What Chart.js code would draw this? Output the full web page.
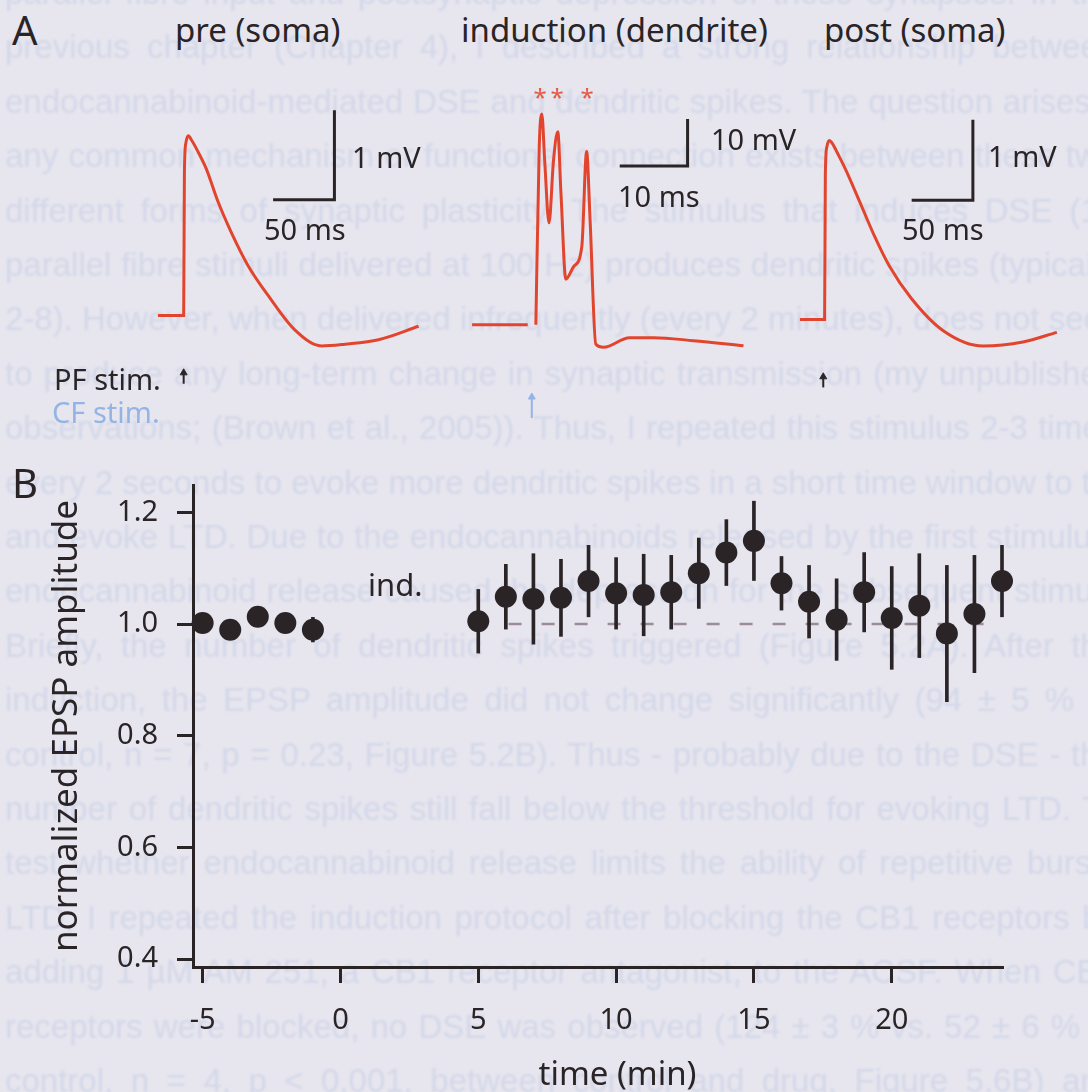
<!DOCTYPE html>
<html><head><meta charset="utf-8">
<script src="https://cdn.jsdelivr.net/npm/chart.js@4.4.0/dist/chart.umd.min.js"></script>
<style>
html,body{margin:0;padding:0;}
body{width:1088px;height:1092px;background:#e7e6ef;position:relative;overflow:hidden;font-family:'Noto Sans',sans-serif;color:#2a2427;}
.t{position:absolute;white-space:nowrap;line-height:1;}
canvas{position:absolute;}
#ghost div{position:absolute;left:5px;width:1112px;font-family:'Liberation Sans',Arial,sans-serif;font-size:33px;line-height:33px;color:rgba(150,170,215,0.24);text-align:justify;text-align-last:justify;white-space:nowrap;filter:blur(0.8px);}
</style></head>
<body>
<div id="ghost"></div>
<canvas id="pre" width="286" height="332" style="left:148px;top:78px"></canvas>
<canvas id="ind" width="295" height="348" style="left:463px;top:85px"></canvas>
<canvas id="post" width="279" height="300" style="left:789px;top:105px"></canvas>
<canvas id="chartB" width="1088" height="652" style="left:0;top:440px"></canvas>
<div id="labels"></div>
<script>
// ---------- Panel B data ----------
const preTimes = [-5, -4, -3, -2, -1];
const preMeans = [1.002, 0.990, 1.013, 1.002, 0.990];
const preErr   = [0.012, 0.012, 0.012, 0.012, 0.022];
const postTimes = [5, 6, 7, 8, 9, 10, 11, 12, 13, 14, 15, 16, 17, 18, 19, 20, 21, 22, 23, 24];
const postMeans = [1.005, 1.049, 1.045, 1.047, 1.077, 1.055, 1.052, 1.057, 1.091, 1.128, 1.149, 1.073, 1.040, 1.008, 1.057, 1.011, 1.033, 0.983, 1.018, 1.077];
const postErr   = [0.057, 0.058, 0.081, 0.069, 0.064, 0.064, 0.073, 0.066, 0.063, 0.059, 0.071, 0.048, 0.065, 0.073, 0.071, 0.092, 0.093, 0.122, 0.105, 0.064];
const xTicks = [-5, 0, 5, 10, 15, 20];
const yTicks = [0.4, 0.6, 0.8, 1.0, 1.2];
const refLine = [{x: 6.1, y: 1.0}, {x: 23.6, y: 1.0}];

// ---------- Panel A traces (ms, mV) ----------
const preTraceMs = [-21, -8, 0, 0.6, 1.8, 3.8, 6.5, 11, 18.3, 27.8, 38.8, 52.4, 70.1, 90.6, 112.4, 131.5, 158.8, 191.5];
const preTraceMv = [0, 0, 0, 1.6, 1.93, 2.01, 1.96, 1.85, 1.645, 1.28, 0.93, 0.56, 0.20, -0.16, -0.34, -0.32, -0.27, -0.12];
const indTraceMs = [-9.4, -1.2, -0.6, 0, 0.5, 0.88, 1.3, 1.94, 2.6, 3.23, 3.7, 4.42, 5.58, 6.77, 7.48, 8.0, 8.83, 10, 13.8, 17.4, 23.2, 30.6];
const indTraceMv = [0, 0, null, 0, 38, 44.9, 35, 21.7, 35, 41.1, 28, 9.7, 12.4, 16.6, 36.9, 22, -4.1, -4.8, -2.75, -2.75, -3.4, -4.5];
const postTraceMs = [-20.2, -8, 0, 0.6, 1.8, 3.8, 6.5, 11, 17.2, 28.7, 40.0, 53.0, 70.9, 96.9, 129.5, 162.0, 189.7];
const postTraceMv = [0, 0, 0, 1.8, 2.14, 2.22, 2.18, 2.05, 1.86, 1.46, 1.06, 0.66, 0.26, -0.14, -0.33, -0.28, -0.16];
// scale bars: [x0, x1] ms at y0, vertical up to y1 (mV)
const preBar  = {ms: [72.9, 122.9], mv: [1.296, 2.296]};
const indBar  = {ms: [12.36, 22.36], mv: [33.8, 43.8]};
const postBar = {ms: [71.1, 121.1], mv: [1.48, 2.48]};
// stimulus arrows: x (ms), y from tail to head (mV)
const preArrow  = {ms: 0,    mv: [-0.762, -0.64]};
const indArrow  = {ms: -0.6, mv: [-19.9, -15.4]};
const postArrow = {ms: -1.1, mv: [-0.844, -0.712]};

const ghostLines = [
 "parallel fibre input and postsynaptic depression of these synapses. In the",
 "previous chapter (Chapter 4), I described a strong relationship between",
 "endocannabinoid-mediated DSE and dendritic spikes. The question arises if",
 "any common mechanism or functional connection exists between these two",
 "different forms of synaptic plasticity. The stimulus that induces DSE (10",
 "parallel fibre stimuli delivered at 100 Hz) produces dendritic spikes (typically",
 "2-8). However, when delivered infrequently (every 2 minutes), does not seem",
 "to produce any long-term change in synaptic transmission (my unpublished",
 "observations; (Brown et al., 2005)). Thus, I repeated this stimulus 2-3 times",
 "every 2 seconds to evoke more dendritic spikes in a short time window to try",
 "and evoke LTD. Due to the endocannabinoids released by the first stimulus,",
 "endocannabinoid release caused the depression for the subsequent stimuli.",
 "Briefly, the number of dendritic spikes triggered (Figure 5.2A). After the",
 "induction, the EPSP amplitude did not change significantly (94 ± 5 % of",
 "control, n = 7, p = 0.23, Figure 5.2B). Thus - probably due to the DSE - the",
 "number of dendritic spikes still fall below the threshold for evoking LTD. To",
 "test whether endocannabinoid release limits the ability of repetitive bursts",
 "LTD, I repeated the induction protocol after blocking the CB1 receptors by",
 "adding 1 µM AM 251, a CB1 receptor antagonist, to the ACSF. When CB1",
 "receptors were blocked, no DSE was observed (124 ± 3 % vs. 52 ± 6 % in",
 "control, n = 4, p < 0.001, between control and drug, Figure 5.6B) and"
];

const INK = '#2a2427';
const RED = '#e2452d';
const BLUE = '#93b4e4';
Chart.defaults.font.family = "'Noto Sans', sans-serif";
Chart.defaults.color = INK;

// ghost text
const g = document.getElementById('ghost');
ghostLines.forEach((s, k) => {
  const d = document.createElement('div');
  const c = 485 + 54.4 * (k - 9);
  d.style.top = (c - 19.4) + 'px';
  d.textContent = s;
  g.appendChild(d);
});

// labels
const labels = [
  ['A', 12, 46, 40, INK],
  ['pre (soma)', 175, 42, 33, INK],
  ['induction (dendrite)', 461, 42, 33, INK],
  ['post (soma)', 824, 42, 33, INK],
  ['1 mV', 352, 168, 29, INK],
  ['50 ms', 264, 240, 29, INK],
  ['10 mV', 711, 150, 29, INK],
  ['10 ms', 618, 207, 29, INK],
  ['1 mV', 988, 167, 29, INK],
  ['50 ms', 902, 240, 29, INK],
  ['PF stim.', 54, 390, 29, INK],
  ['CF stim.', 52, 423, 29, BLUE],
  ['B', 12, 499, 40, INK],
  ['ind.', 368, 597, 31, INK]
];
const L = document.getElementById('labels');
function addLabel(txt, x, base, fs, col, center) {
  const d = document.createElement('div');
  d.className = 't';
  d.textContent = txt;
  d.style.fontSize = fs + 'px';
  d.style.color = col;
  d.style.left = x + 'px';
  d.style.top = (base - 0.888 * fs) + 'px';
  if (center) d.style.transform = 'translateX(-50%)';
  L.appendChild(d);
}
labels.forEach(l => addLabel(...l));
addLabel('time (min)', 617.5, 1085, 33, INK, true);
[540, 557, 587].forEach(x => addLabel('*', x, 106, 24, '#e55a44', true));

// ---------- Panel A charts ----------
function traceChart(id, ms, mv, bar, arrow, arrowCol, xr, yr) {
  const pts = ms.map((t, i) => ({x: t, y: mv[i]}));
  const barPts = [{x: bar.ms[0], y: bar.mv[0]}, {x: bar.ms[1], y: bar.mv[0]}, {x: bar.ms[1], y: bar.mv[1]}];
  const arrPts = [{x: arrow.ms, y: arrow.mv[0]}, {x: arrow.ms, y: arrow.mv[1]}];
  new Chart(document.getElementById(id), {
    type: 'line',
    data: {datasets: [
      {data: pts, borderColor: RED, borderWidth: 3, pointRadius: 0, cubicInterpolationMode: 'monotone', spanGaps: false, clip: false},
      {data: barPts, borderColor: INK, borderWidth: 3, pointRadius: 0, tension: 0, clip: false},
      {data: arrPts, borderColor: arrowCol, borderWidth: 2, pointRadius: [0, 4], pointStyle: 'triangle',
       pointBackgroundColor: arrowCol, pointBorderColor: arrowCol, pointBorderWidth: 1, tension: 0, clip: false}
    ]},
    options: {
      responsive: false, animation: false, events: [], devicePixelRatio: 1,
      layout: {padding: 0},
      plugins: {legend: {display: false}, tooltip: {enabled: false}},
      scales: {
        x: {type: 'linear', display: false, min: xr[0], max: xr[1], offset: false},
        y: {type: 'linear', display: false, min: yr[0], max: yr[1]}
      }
    }
  });
}
traceChart('pre', preTraceMs, preTraceMv, preBar, preArrow, INK, [-25, 200], [-1.0, 2.6]);
traceChart('ind', indTraceMs, indTraceMv, indBar, indArrow, BLUE, [-10, 32], [-22, 50]);
traceChart('post', postTraceMs, postTraceMv, postBar, postArrow, INK, [-25, 194.7], [-1.0, 2.6]);

// ---------- Panel B chart ----------
const allT = preTimes.concat(postTimes);
const allM = preMeans.concat(postMeans);
const allE = preErr.concat(postErr);
new Chart(document.getElementById('chartB'), {
  type: 'scatter',
  data: {datasets: [
    {type: 'scatter', data: allT.map((t, i) => ({x: t, y: allM[i]})), pointRadius: 11, pointHoverRadius: 11,
     backgroundColor: INK, borderWidth: 0, order: 0, clip: false},
    {type: 'bar', data: allT.map((t, i) => ({x: t, y: [allM[i] - allE[i], allM[i] + allE[i]]})),
     barThickness: 3, backgroundColor: INK, borderWidth: 0, order: 1, clip: false},
    {type: 'line', data: refLine, borderColor: '#9c8b98', borderWidth: 2.5, borderDash: [13, 20],
     pointRadius: 0, order: 2}
  ]},
  options: {
    responsive: false, animation: false, events: [], devicePixelRatio: 1,
    layout: {padding: {left: 0, top: 45, right: 86, bottom: 0}},
    plugins: {legend: {display: false}, tooltip: {enabled: false}},
    scales: {
      x: {
        type: 'linear', min: -5.35, max: 24, offset: false,
        afterBuildTicks: s => { s.ticks = xTicks.map(v => ({value: v})); },
        afterFit: s => { s.height = 125; },
        grid: {display: true, offset: false, drawOnChartArea: false, drawTicks: true, tickLength: 16, color: INK, lineWidth: 3},
        border: {display: true, color: INK, width: 3},
        ticks: {font: {size: 29}, color: INK, padding: 20, maxRotation: 0, callback: v => String(v)}
      },
      y: {
        type: 'linear', min: 0.386, max: 1.249, beginAtZero: false, offset: false,
        afterBuildTicks: s => { s.ticks = yTicks.map(v => ({value: v})); },
        afterFit: s => { s.width = 193; },
        grid: {display: true, offset: false, drawOnChartArea: false, drawTicks: true, tickLength: 16, color: INK, lineWidth: 3},
        border: {display: true, color: INK, width: 3},
        ticks: {font: {size: 29}, color: INK, padding: 19, callback: v => v.toFixed(1)},
        title: {display: true, text: 'normalized EPSP amplitude', font: {size: 35}, color: INK, padding: {top: 46, bottom: 0}}
      }
    }
  }
});
</script>
</body></html>
